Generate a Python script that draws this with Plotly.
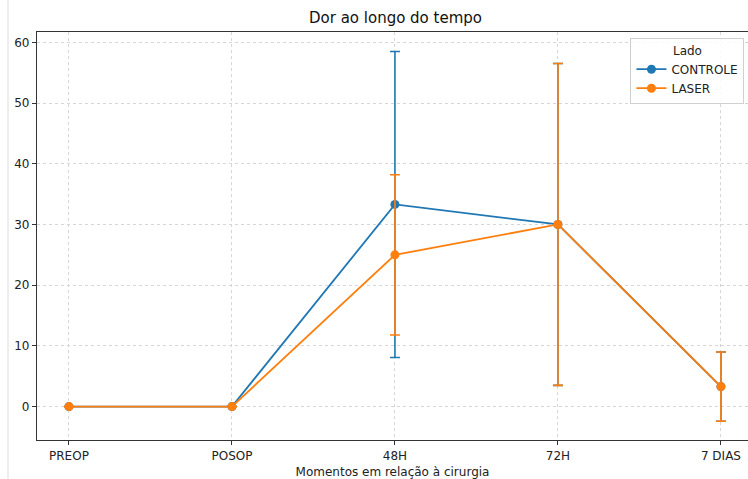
import plotly.graph_objects as go

# Time points and mean pain scores with standard deviations per side
momentos = ["PREOP", "POSOP", "48H", "72H", "7 DIAS"]
controle_media = [0, 0, 33.3, 30.0, 3.3]
controle_dp = [0, 0, 25.2, 26.5, 5.7]
laser_media = [0, 0, 25.0, 30.0, 3.3]
laser_dp = [0, 0, 13.2, 26.5, 5.7]

AZUL = "#1f77b4"
LARANJA = "#ff7f0e"
FONTE = "DejaVu Sans"

xs = list(range(len(momentos)))

fig = go.Figure()
for nome, media, dp, cor in [
    ("CONTROLE", controle_media, controle_dp, AZUL),
    ("LASER", laser_media, laser_dp, LARANJA),
]:
    fig.add_trace(go.Scatter(
        x=xs, y=media, name=nome, mode="lines+markers",
        line=dict(color=cor, width=1.8),
        marker=dict(color=cor, size=9),
        error_y=dict(type="data", array=dp, visible=True,
                     color=cor, thickness=1.6, width=5),
    ))

fig.update_layout(
    width=748, height=479,
    margin=dict(l=37, r=0, t=32, b=39),
    paper_bgcolor="white", plot_bgcolor="white",
    font=dict(family=FONTE, size=12, color="#222"),
    title=dict(text="Dor ao longo do tempo", x=(395.5 / 748), xanchor="center",
               y=1 - 18 / 479, yanchor="middle",
               font=dict(family=FONTE, size=15, color="#111")),
    legend=dict(
        title=dict(text="Lado", side="top center", font=dict(size=12)),
        x=0.995, xanchor="right", y=0.985, yanchor="top",
        bgcolor="rgba(255,255,255,0.85)", bordercolor="#d0d0d0", borderwidth=1,
        font=dict(size=12),
    ),
    showlegend=True,
)

fig.update_xaxes(
    tickmode="array", tickvals=xs, ticktext=momentos,
    range=[-0.196, 4.166],
    showgrid=True, gridcolor="#d6d6d6", griddash="3px,3px", gridwidth=1,
    showline=True, linecolor="#333", linewidth=1.2, mirror=True,
    ticks="outside", ticklen=4, tickcolor="#333",
    zeroline=False,
    title=dict(text="Momentos em relação à cirurgia", standoff=6,
               font=dict(size=12)),
)
fig.update_yaxes(
    range=[-5.5, 61.7],
    tickvals=[0, 10, 20, 30, 40, 50, 60],
    showgrid=True, gridcolor="#d6d6d6", griddash="3px,3px", gridwidth=1,
    showline=True, linecolor="#333", linewidth=1.2,
    ticks="outside", ticklen=4, tickcolor="#333",
    zeroline=False,
)

# thin frame line at the left of the canvas
fig.add_shape(type="line", xref="paper", yref="paper",
              x0=-29 / 711, x1=-29 / 711, y0=-39 / 408, y1=1 + 32 / 408,
              line=dict(color="#dddddd", width=1))

fig.write_html("out.html")
